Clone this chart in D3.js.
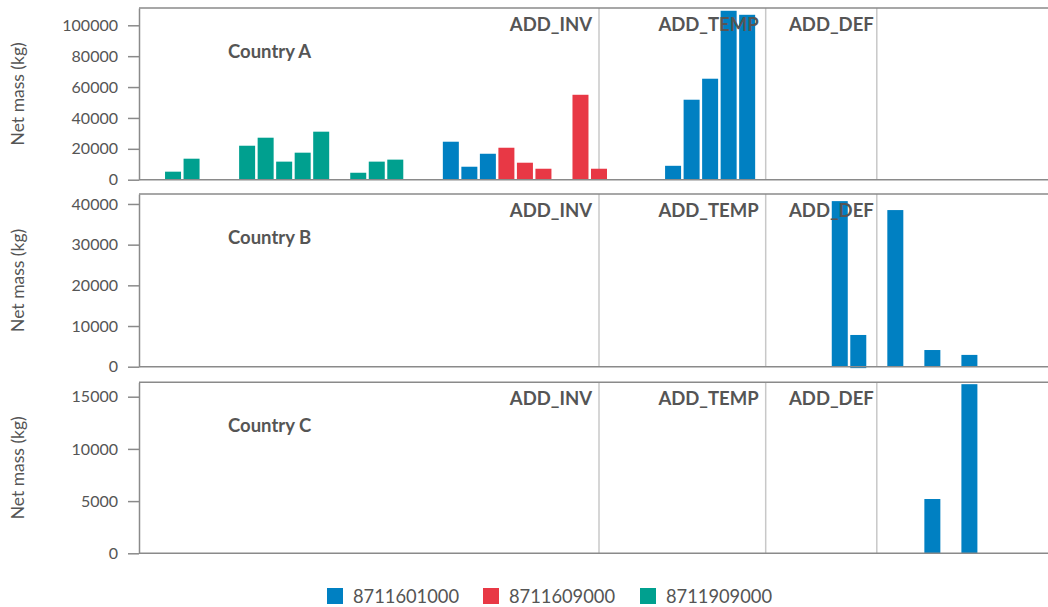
<!DOCTYPE html>
<html>
<head>
<meta charset="utf-8">
<script src="https://cdn.jsdelivr.net/npm/d3@7"></script>
<style>
  html, body { margin: 0; padding: 0; background: #fff; }
  svg { display: block; font-family: Lato, "Open Sans", sans-serif; }
</style>
</head>
<body>
<svg id="chart" width="1048" height="607"></svg>
<script>
// ---- data ----
const codes = ["8711601000", "8711609000", "8711909000"];
const codeColors = ["#0080c2", "#e83845", "#00a08f"];

// period index (hidden x categories), product code, net mass (kg)
const countryA = [
  [0, "8711909000", 5200], [1, "8711909000", 13600],
  [4, "8711909000", 22000], [5, "8711909000", 27200], [6, "8711909000", 11700],
  [7, "8711909000", 17500], [8, "8711909000", 31100],
  [10, "8711909000", 4500], [11, "8711909000", 11700], [12, "8711909000", 13000],
  [15, "8711601000", 24600], [16, "8711601000", 8400], [17, "8711601000", 16800],
  [18, "8711609000", 20700], [19, "8711609000", 11000], [20, "8711609000", 7100],
  [22, "8711609000", 55000], [23, "8711609000", 7100],
  [27, "8711601000", 9000], [28, "8711601000", 51800], [29, "8711601000", 65400],
  [30, "8711601000", 109400], [31, "8711601000", 106800]
];
const countryB = [
  [36, "8711601000", 40700], [37, "8711601000", 7800], [37, "8711601000", -350],
  [39, "8711601000", 38500], [41, "8711601000", 4100], [43, "8711601000", 2900]
];
const countryC = [
  [41, "8711601000", 5200], [43, "8711601000", 16200]
];

const countryNames = ["Country A", "Country B", "Country C"];
const yMaxes = [111200, 42450, 16380];
const yTicksA = [0, 20000, 40000, 60000, 80000, 100000];
const yTicksB = [0, 10000, 20000, 30000, 40000];
const yTicksC = [0, 5000, 10000, 15000];

const markerLabels = ["ADD_INV", "ADD_TEMP", "ADD_DEF"];
const markerPeriods = [23, 32, 38];

const periodDomain = [-2, 47];

// ---- layout ----
const svg = d3.select("#chart");
const left = 139, right = 1048;
const panelTops = [8, 194, 382.3];
const panelBottoms = [179.7, 366.7, 553.3];
const datasets = [countryA, countryB, countryC];
const tickSets = [yTicksA, yTicksB, yTicksC];
const textColor = "#555555";
const axisColor = "#8a8a8a";
const labelDx = [-7, -7, -3];

const x = d3.scaleLinear().domain(periodDomain).range([136, 136 + 49 * 18.52]);
const color = d3.scaleOrdinal().domain(codes).range(codeColors);

datasets.forEach((data, i) => {
  const top = panelTops[i], bottom = panelBottoms[i];
  const y = d3.scaleLinear().domain([0, yMaxes[i]]).range([bottom, top]);
  const g = svg.append("g");

  // separators
  g.selectAll("line.sep").data(markerPeriods).join("line")
    .attr("class", "sep")
    .attr("x1", d => x(d)).attr("x2", d => x(d))
    .attr("y1", top).attr("y2", bottom)
    .attr("stroke", "#c8c8c8").attr("stroke-width", 1.5);

  // bars
  g.selectAll("rect.bar").data(data).join("rect")
    .attr("class", "bar")
    .attr("x", d => x(d[0]) - 8)
    .attr("width", 16)
    .attr("y", d => y(Math.max(0, d[2])))
    .attr("height", d => Math.abs(y(d[2]) - y(0)))
    .attr("fill", d => color(d[1]));

  // top border & baseline
  g.append("line").attr("x1", left).attr("x2", right).attr("y1", top).attr("y2", top)
    .attr("stroke", axisColor).attr("stroke-width", 1.5);
  g.append("line").attr("x1", left).attr("x2", right).attr("y1", y(0)).attr("y2", y(0))
    .attr("stroke", axisColor).attr("stroke-width", 1.5);

  // y axis
  const ax = g.append("g").attr("transform", `translate(${left},0)`)
    .call(d3.axisLeft(y).tickValues(tickSets[i]).tickFormat(d3.format("d"))
      .tickSizeInner(11).tickSizeOuter(0).tickPadding(10));
  ax.select(".domain").attr("stroke", axisColor).attr("stroke-width", 1.5);
  ax.selectAll(".tick line").attr("stroke", axisColor).attr("stroke-width", 1.5);
  ax.selectAll(".tick text").attr("fill", textColor)
    .style("font-size", "16px").style("font-family", "Lato");

  // marker labels
  g.selectAll("text.mk").data(markerLabels).join("text")
    .attr("class", "mk")
    .attr("x", (d, k) => x(markerPeriods[k]) + labelDx[k])
    .attr("y", top + 22.7)
    .attr("text-anchor", "end")
    .attr("fill", textColor)
    .style("font-size", "18.5px").style("font-weight", "bold")
    .text(d => d);

  // country label
  g.append("text").attr("x", 228).attr("y", top + 50)
    .attr("fill", textColor)
    .style("font-size", "18.5px").style("font-weight", "bold")
    .text(countryNames[i]);

  // y title
  g.append("text")
    .attr("transform", `translate(24,${(top + bottom) / 2}) rotate(-90)`)
    .attr("text-anchor", "middle")
    .attr("fill", textColor)
    .style("font-size", "17.5px")
    .text("Net mass (kg)");
});

// legend
const legendX = [327, 483, 640];
const lg = svg.append("g");
codes.forEach((c, k) => {
  lg.append("rect").attr("x", legendX[k]).attr("y", 588).attr("width", 16).attr("height", 16)
    .attr("fill", color(c));
  lg.append("text").attr("x", legendX[k] + 26).attr("y", 603)
    .attr("fill", textColor).style("font-size", "18.3px").text(c);
});
</script>
</body>
</html>
